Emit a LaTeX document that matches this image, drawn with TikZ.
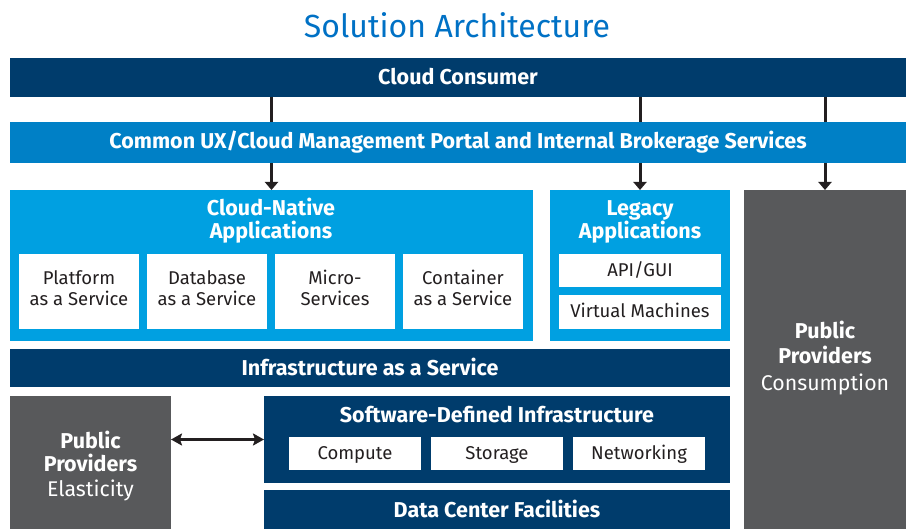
\documentclass[tikz,border=0pt]{standalone}
\usepackage{fontspec}
\setmainfont{Fira Sans}
\usetikzlibrary{arrows.meta}
\definecolor{navy}{HTML}{003C6C}
\definecolor{midblue}{HTML}{0080C6}
\definecolor{lightblue}{HTML}{00A0E1}
\definecolor{greybox}{HTML}{58595B}
\definecolor{titleblue}{HTML}{0071C5}
\definecolor{ink}{HTML}{231F20}
\begin{document}
\begin{tikzpicture}[x=1pt,y=-1pt,
  blk/.style={anchor=north west, inner sep=0pt, outer sep=0pt, draw=none},
  hdr/.style={anchor=base, inner sep=0pt, text=white, font=\bfseries\fontsize{21.5}{25}\selectfont},
  sub/.style={anchor=base, inner sep=0pt, text=white, font=\fontsize{21.3}{25}\selectfont},
  itm/.style={anchor=base, inner sep=0pt, text=ink, font=\fontsize{18.5}{22}\selectfont},
  conn/.style={line width=3pt, draw=ink},
  tip/.style={-{Triangle[width=13pt,length=8pt]}},
  dtip/.style={{Stealth[width=12pt,length=11pt,inset=2pt]}-{Stealth[width=12pt,length=11pt,inset=2pt]}}
]
\useasboundingbox (0,0) rectangle (908,529);

% title
\node[anchor=base, inner sep=0pt, text=titleblue, font=\fontsize{32}{36}\selectfont] (title) at (457,37.5) {Solution Architecture};

% top bars
\node[blk, fill=navy, minimum width=896pt, minimum height=39pt] (cc) at (10,58) {};
\node[hdr] (cct) at (458,85) {Cloud Consumer};
\node[blk, fill=midblue, minimum width=896pt, minimum height=41pt] (ux) at (10,122) {};
\node[hdr] (uxt) at (458,149) {Common UX/Cloud Management Portal and Internal Brokerage Services};

% cloud-native
\node[blk, fill=lightblue, minimum width=523pt, minimum height=151pt] (cn) at (10,190) {};
\node[hdr] (cnt1) at (271,216) {Cloud-Native};
\node[hdr] (cnt2) at (271,239) {Applications};
\node[blk, fill=white, minimum width=120pt, minimum height=75pt] (paas) at (19,254) {};
\node[blk, fill=white, minimum width=120pt, minimum height=75pt] (dbaas) at (147,254) {};
\node[blk, fill=white, minimum width=120pt, minimum height=75pt] (micro) at (275,254) {};
\node[blk, fill=white, minimum width=120pt, minimum height=75pt] (caas) at (403,254) {};
\node[itm] (paas1) at (79,285) {Platform};
\node[itm] (paas2) at (79,306) {as a Service};
\node[itm] (dbaas1) at (207,285) {Database};
\node[itm] (dbaas2) at (207,306) {as a Service};
\node[itm] (micro1) at (335,285) {Micro-};
\node[itm] (micro2) at (335,306) {Services};
\node[itm] (caas1) at (463,285) {Container};
\node[itm] (caas2) at (463,306) {as a Service};

% legacy
\node[blk, fill=lightblue, minimum width=180pt, minimum height=151pt] (lg) at (550,190) {};
\node[hdr] (lgt1) at (640,216) {Legacy};
\node[hdr] (lgt2) at (640,239) {Applications};
\node[blk, fill=white, minimum width=162pt, minimum height=33pt] (api) at (559,254) {};
\node[blk, fill=white, minimum width=162pt, minimum height=34pt] (vm) at (559,295) {};
\node[itm] (apit) at (640,277) {API/GUI};
\node[itm] (vmt) at (640,318) {Virtual Machines};

% public providers consumption
\node[blk, fill=greybox, minimum width=162pt, minimum height=339pt] (pc) at (744,190) {};
\node[hdr] (pct1) at (825,339) {Public};
\node[hdr] (pct2) at (825,363) {Providers};
\node[sub] (pct3) at (825,390) {Consumption};

% iaas
\node[blk, fill=navy, minimum width=720pt, minimum height=38pt] (iaas) at (10,349) {};
\node[hdr] (iaast) at (370,375) {Infrastructure as a Service};

% public providers elasticity
\node[blk, fill=greybox, minimum width=161pt, minimum height=133pt] (pe) at (10,396) {};
\node[hdr] (pet1) at (90.5,448) {Public};
\node[hdr] (pet2) at (90.5,471) {Providers};
\node[sub] (pet3) at (90.5,496) {Elasticity};

% sdi
\node[blk, fill=navy, minimum width=466pt, minimum height=87pt] (sdi) at (264,396) {};
\node[hdr] (sdit) at (497,422) {Software-Defined Infrastructure};
\node[blk, fill=white, minimum width=132pt, minimum height=33pt] (comp) at (289,437) {};
\node[blk, fill=white, minimum width=132pt, minimum height=33pt] (stor) at (431,437) {};
\node[blk, fill=white, minimum width=132pt, minimum height=33pt] (netw) at (573,437) {};
\node[itm] (compt) at (355,459) {Compute};
\node[itm] (stort) at (497,459) {Storage};
\node[itm] (netwt) at (639,459) {Networking};

% data center
\node[blk, fill=navy, minimum width=466pt, minimum height=39pt] (dc) at (264,490) {};
\node[hdr] (dct) at (497,517) {Data Center Facilities};

% connectors
\draw[conn] (cc.south -| cn.north) -- (ux.north -| cn.north);
\draw[conn, tip] (ux.south -| cn.north) -- (cn.north);
\draw[conn] (cc.south -| lg.north) -- (ux.north -| lg.north);
\draw[conn, tip] (ux.south -| lg.north) -- (lg.north);
\draw[conn] (cc.south -| pc.north) -- (ux.north -| pc.north);
\draw[conn, tip] (ux.south -| pc.north) -- (pc.north);
\draw[conn, dtip] (pe.east |- sdi.west) -- (sdi.west);
\end{tikzpicture}
\end{document}
